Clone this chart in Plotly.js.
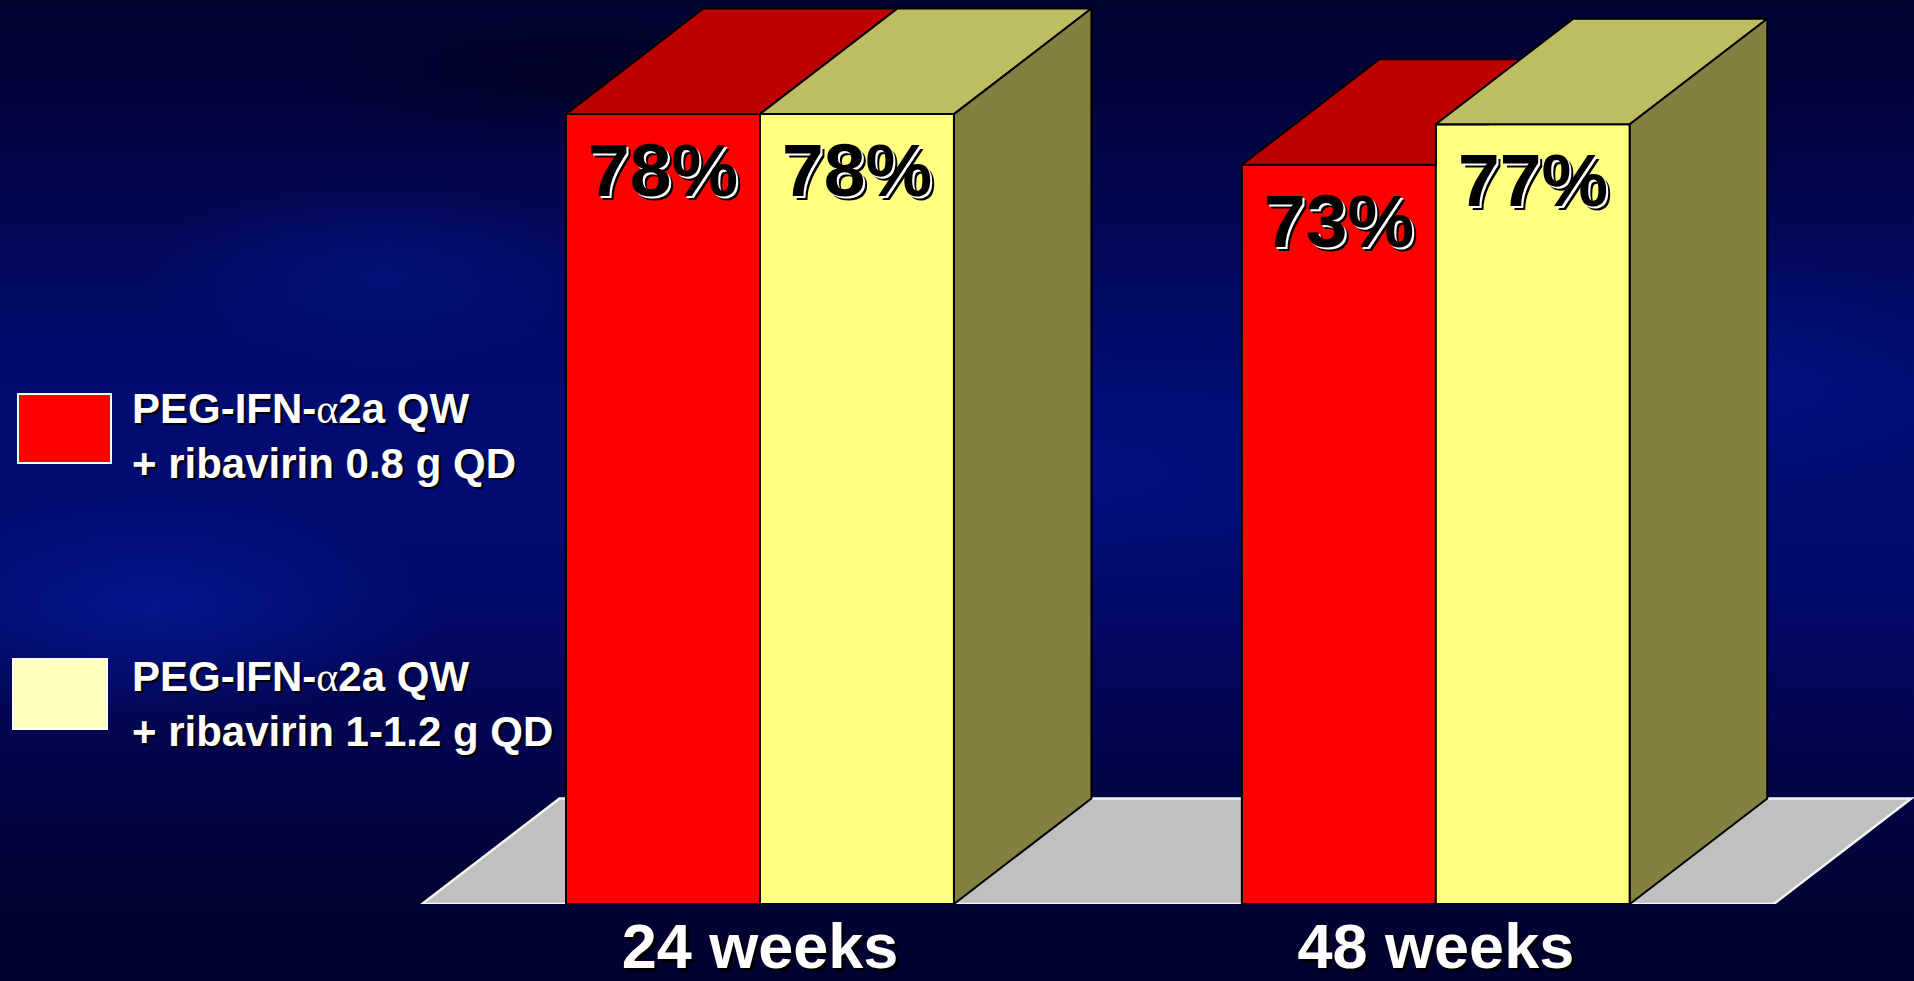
<!DOCTYPE html>
<html>
<head>
<meta charset="utf-8">
<script src="https://cdn.plot.ly/plotly-3.0.1.min.js"></script>
<style>
  html, body { margin: 0; padding: 0; overflow: hidden; background: #020230; }
  #chart {
    width: 1914px; height: 981px;
    background:
      radial-gradient(ellipse 22% 16% at 8% 62%, rgba(10, 40, 190, 0.45), rgba(0, 0, 0, 0) 70%),
      radial-gradient(ellipse 18% 14% at 20% 28%, rgba(10, 30, 170, 0.35), rgba(0, 0, 0, 0) 70%),
      radial-gradient(ellipse 25% 18% at 88% 38%, rgba(10, 30, 170, 0.35), rgba(0, 0, 0, 0) 70%),
      radial-gradient(ellipse 35% 20% at 55% 48%, rgba(10, 30, 160, 0.25), rgba(0, 0, 0, 0) 70%),
      radial-gradient(ellipse 20% 10% at 30% 8%, rgba(0, 0, 20, 0.5), rgba(0, 0, 0, 0) 70%),
      linear-gradient(to bottom, #030330 0%, #03043c 10%, #020858 24%, #010b70 40%, #010b72 52%, #020863 64%, #03054a 78%, #020334 90%, #020230 100%);
  }
</style>
</head>
<body>
<div id="chart"></div>
<script>
// Sustained virological response by treatment duration and ribavirin dose
const categories = ['24 weeks', '48 weeks'];
const seriesNames = [
  'PEG-IFN-<span style="font-family:\'Liberation Serif\', serif; font-weight:normal">α</span>2a QW<br>+ ribavirin 0.8 g QD',
  'PEG-IFN-<span style="font-family:\'Liberation Serif\', serif; font-weight:normal">α</span>2a QW<br>+ ribavirin 1-1.2 g QD'
];
const lowDoseResponse = [78, 73];
const standardDoseResponse = [78, 77];

// Styling and pseudo-3D geometry
const FONT = '"Liberation Sans", Arial, Helvetica, sans-serif';
const BAR_W = 0.287;      // bar width in category units
const DEPTH_X = 0.2034;   // receding offset along x (category units)
const DEPTH_Y = 10.42;    // receding offset along y (percent units)
const PLOT_H = 904;       // plot area height in px

const series = [
  { name: seriesNames[0], values: lowDoseResponse, front: '#ff0000', top: '#bd0000', side: '#800000', key: '#ff0000' },
  { name: seriesNames[1], values: standardDoseResponse, front: '#ffff80', top: '#bfbd62', side: '#828142', key: '#ffffc0' }
];

const catIdx = categories.map((_, i) => i);
const nS = series.length;
const traces = [];
const annotations = [];

// Front faces as bars
series.forEach((s, k) => {
  const offset = (k - nS / 2) * BAR_W;
  traces.push({
    type: 'bar', name: s.name.replace(/<[^>]+>/g, ' '),
    x: catIdx, y: s.values, width: BAR_W, offset: offset,
    marker: { color: s.front, line: { color: '#000000', width: 2 } },
    hoverinfo: 'y', showlegend: false
  });
  s.values.forEach((v, i) => {
    annotations.push({
      xref: 'x', yref: 'y', x: i + offset + BAR_W / 2, y: v,
      text: v + '%', showarrow: false, xanchor: 'center', yanchor: 'middle', yshift: -56,
      font: { family: FONT, size: 75, color: '#000000', weight: 700, shadow: '2px 2px 0px #ffffff, 4px 4px 0px #000000' }
    });
  });
});

// Top faces (clipped where the neighbouring bar in front of them is taller)
series.forEach((s, k) => {
  const offset = (k - nS / 2) * BAR_W;
  const xs = [], ys = [];
  s.values.forEach((v, i) => {
    const x0 = i + offset, x1 = x0 + BAR_W;
    const next = k < nS - 1 ? series[k + 1].values[i] : null;
    let pts;
    if (next !== null && next > v) {
      const wc = Math.min(next, v + DEPTH_Y);
      const t = (wc - v) / DEPTH_Y;
      pts = [[x0, v], [x1, v], [x1, wc], [x1 + t * DEPTH_X, wc], [x1 + DEPTH_X, v + DEPTH_Y], [x0 + DEPTH_X, v + DEPTH_Y], [x0, v]];
    } else {
      pts = [[x0, v], [x1, v], [x1 + DEPTH_X, v + DEPTH_Y], [x0 + DEPTH_X, v + DEPTH_Y], [x0, v]];
    }
    pts.forEach(p => { xs.push(p[0]); ys.push(p[1]); });
    xs.push(null); ys.push(null);
  });
  traces.push({
    type: 'scatter', mode: 'lines', x: xs, y: ys, fill: 'toself', fillcolor: s.top,
    line: { color: '#000000', width: 2 }, hoverinfo: 'skip', showlegend: false
  });
});

// Side face of the rightmost bar in each group
{
  const k = nS - 1, s = series[k];
  const offset = (k - nS / 2) * BAR_W;
  const xs = [], ys = [];
  s.values.forEach((v, i) => {
    const x1 = i + offset + BAR_W;
    [[x1, 0], [x1 + DEPTH_X, DEPTH_Y], [x1 + DEPTH_X, v + DEPTH_Y], [x1, v], [x1, 0]]
      .forEach(p => { xs.push(p[0]); ys.push(p[1]); });
    xs.push(null); ys.push(null);
  });
  traces.push({
    type: 'scatter', mode: 'lines', x: xs, y: ys, fill: 'toself', fillcolor: s.side,
    line: { color: '#000000', width: 2 }, hoverinfo: 'skip', showlegend: false
  });
}

// Floor of the chart
const xLo = -0.5, xHi = categories.length - 0.5;
const shapes = [{
  type: 'path', xref: 'x', yref: 'y', layer: 'below',
  path: `M ${xLo},0 L ${xHi},0 L ${xHi + DEPTH_X},${DEPTH_Y} L ${xLo + DEPTH_X},${DEPTH_Y} Z`,
  fillcolor: '#c0c0c0', line: { color: '#f4f4f4', width: 2.5 }
}];

// Legend: colour keys and labels
const px = v => v / 1914;
const py = v => (PLOT_H - v) / PLOT_H;
const legendRows = [
  { box: [18, 394, 111, 463], textTop: 383 },
  { box: [13, 659, 107, 729], textTop: 651 }
];
series.forEach((s, k) => {
  const r = legendRows[k];
  shapes.push({
    type: 'rect', xref: 'paper', yref: 'paper',
    x0: px(r.box[0]), x1: px(r.box[2]), y0: py(r.box[3]), y1: py(r.box[1]),
    fillcolor: s.key, line: { color: '#ffffff', width: 2 }
  });
  annotations.push({
    xref: 'paper', yref: 'paper', x: px(130), y: py(r.textTop),
    xanchor: 'left', yanchor: 'top', align: 'left', showarrow: false,
    text: s.name,
    font: { family: FONT, size: 42, color: '#ffffff', weight: 700, shadow: '2px 2px 1px #000000' }
  });
});

const layout = {
  width: 1914, height: 981,
  margin: { l: 0, r: 0, t: 0, b: 77, pad: 0 },
  paper_bgcolor: 'rgba(0,0,0,0)', plot_bgcolor: 'rgba(0,0,0,0)',
  barmode: 'overlay', showlegend: false,
  xaxis: {
    range: [-1.1245, 1.7075], tickvals: catIdx, ticktext: categories,
    showgrid: false, zeroline: false, showline: false, ticks: '',
    ticklabelstandoff: 0,
    tickfont: { family: FONT, size: 63, color: '#ffffff', weight: 700, shadow: '3px 3px 1px #000000' },
    fixedrange: true
  },
  yaxis: { range: [0, PLOT_H / 10.127], visible: false, fixedrange: true },
  shapes: shapes,
  annotations: annotations
};

Plotly.newPlot('chart', traces, layout, { displayModeBar: false, staticPlot: true });
</script>
</body>
</html>
